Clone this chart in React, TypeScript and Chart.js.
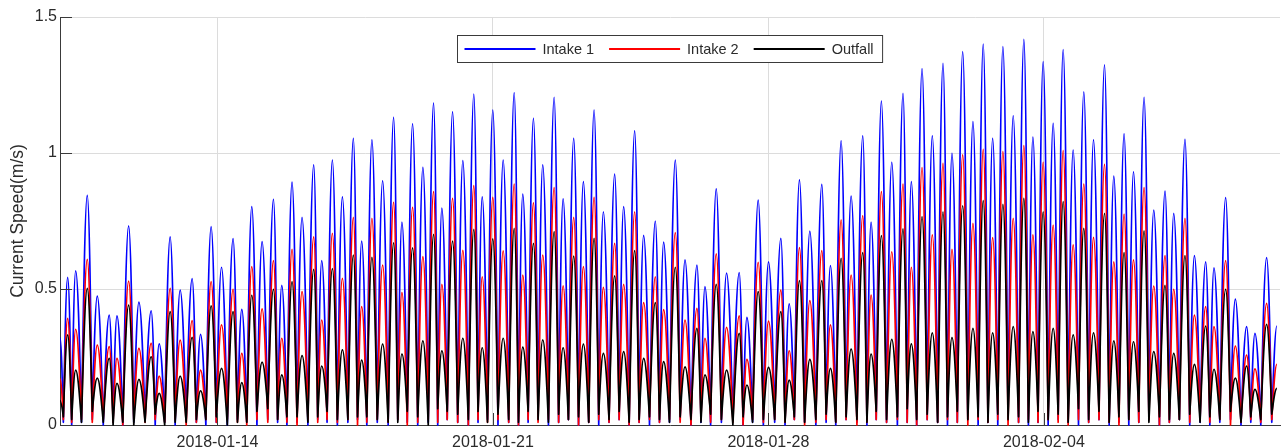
import React, { useEffect, useRef } from 'react';
import { Chart, registerables } from 'chart.js';

Chart.register(...registerables);

// ---- axis / labels ----
const X_MIN_DAY = 0; // days since 2018-01-10 00:00
const X_MAX_DAY = 31;
const xTickDays = [4, 11, 18, 25];
const xTickLabels = ['2018-01-14', '2018-01-21', '2018-01-28', '2018-02-04'];
const yTickValues = [0, 0.5, 1, 1.5];
const yTitle = 'Current Speed(m/s)';

const seriesNames = ['Intake 1', 'Intake 2', 'Outfall'];
const seriesColors = ['#0000ff', '#ff0000', '#000000'];

// ---- data (days since 2018-01-10, speed in m/s) ----
const startDay = 0;
const startValues = [0.32, 0.17, 0.09];

const peakDays = [
  0.195, 0.398, 0.693, 0.947, 1.251, 1.447, 1.744, 2.005, 2.317, 2.52,
  2.799, 3.053, 3.358, 3.571, 3.84, 4.104, 4.398, 4.619, 4.873, 5.135,
  5.424, 5.635, 5.896, 6.15, 6.447, 6.65, 6.921, 7.175, 7.454, 7.665,
  7.926, 8.198, 8.477, 8.688, 8.959, 9.221, 9.492, 9.703, 9.975, 10.236,
  10.515, 10.728, 10.997, 11.261, 11.541, 11.759, 12.03, 12.266, 12.556, 12.784,
  13.053, 13.299, 13.571, 13.807, 14.094, 14.322, 14.602, 14.83, 15.127, 15.338,
  15.635, 15.881, 16.185, 16.388, 16.675, 16.937, 17.259, 17.454, 17.741, 18.003,
  18.317, 18.528, 18.789, 19.053, 19.358, 19.576, 19.848, 20.102, 20.398, 20.609,
  20.871, 21.135, 21.421, 21.632, 21.904, 22.165, 22.437, 22.665, 22.937, 23.198,
  23.459, 23.698, 23.959, 24.221, 24.492, 24.721, 24.982, 25.236, 25.49, 25.744,
  26.015, 26.261, 26.541, 26.777, 27.038, 27.277, 27.546, 27.792, 28.079, 28.299,
  28.586, 28.825, 29.112, 29.322, 29.619, 29.865, 30.152, 30.363, 30.66, 30.921,
];

const intake1Peaks = [
  0.543, 0.567, 0.844, 0.474, 0.404, 0.401, 0.732, 0.452, 0.42, 0.298,
  0.692, 0.496, 0.538, 0.333, 0.729, 0.58, 0.685, 0.425, 0.803, 0.674,
  0.83, 0.513, 0.893, 0.763, 0.956, 0.604, 0.974, 0.839, 1.054, 0.676,
  1.048, 0.898, 1.131, 0.746, 1.107, 0.947, 1.183, 0.797, 1.151, 0.972,
  1.217, 0.839, 1.158, 0.974, 1.222, 0.849, 1.127, 0.956, 1.205, 0.831,
  1.054, 0.895, 1.158, 0.784, 0.922, 0.803, 1.081, 0.697, 0.75, 0.672,
  0.974, 0.607, 0.588, 0.509, 0.868, 0.558, 0.56, 0.396, 0.827, 0.6,
  0.686, 0.445, 0.901, 0.713, 0.885, 0.586, 1.045, 0.842, 1.063, 0.746,
  1.191, 0.966, 1.219, 0.895, 1.31, 1.063, 1.33, 0.999, 1.373, 1.115,
  1.4, 1.054, 1.391, 1.137, 1.418, 1.058, 1.336, 1.109, 1.38, 1.011,
  1.225, 1.048, 1.324, 0.915, 1.07, 0.931, 1.205, 0.79, 0.86, 0.778,
  1.05, 0.623, 0.6, 0.578, 0.836, 0.463, 0.362, 0.337, 0.615, 0.364,
];

const intake2Peaks = [
  0.392, 0.352, 0.609, 0.294, 0.288, 0.245, 0.529, 0.282, 0.3, 0.18,
  0.502, 0.312, 0.384, 0.202, 0.527, 0.368, 0.499, 0.263, 0.582, 0.427,
  0.604, 0.319, 0.646, 0.49, 0.692, 0.386, 0.705, 0.539, 0.763, 0.435,
  0.76, 0.588, 0.819, 0.487, 0.8, 0.619, 0.858, 0.517, 0.833, 0.642,
  0.88, 0.545, 0.837, 0.64, 0.886, 0.551, 0.817, 0.625, 0.873, 0.512,
  0.763, 0.582, 0.837, 0.506, 0.668, 0.517, 0.784, 0.45, 0.545, 0.424,
  0.707, 0.386, 0.429, 0.319, 0.629, 0.359, 0.401, 0.241, 0.598, 0.382,
  0.496, 0.273, 0.652, 0.457, 0.641, 0.368, 0.754, 0.551, 0.77, 0.478,
  0.858, 0.637, 0.886, 0.58, 0.946, 0.699, 0.962, 0.646, 0.993, 0.741,
  1.013, 0.689, 1.005, 0.76, 1.027, 0.699, 0.966, 0.735, 1.009, 0.662,
  0.886, 0.69, 0.958, 0.6, 0.775, 0.607, 0.873, 0.511, 0.623, 0.499,
  0.76, 0.404, 0.435, 0.362, 0.604, 0.29, 0.257, 0.206, 0.447, 0.223,
];

const outfallPeaks = [
  0.331, 0.202, 0.502, 0.172, 0.245, 0.153, 0.441, 0.168, 0.251, 0.116,
  0.417, 0.18, 0.322, 0.126, 0.438, 0.208, 0.417, 0.156, 0.477, 0.231,
  0.499, 0.184, 0.527, 0.255, 0.572, 0.217, 0.575, 0.276, 0.625, 0.239,
  0.616, 0.297, 0.67, 0.261, 0.651, 0.309, 0.701, 0.273, 0.676, 0.319,
  0.719, 0.284, 0.684, 0.319, 0.723, 0.286, 0.668, 0.313, 0.711, 0.284,
  0.621, 0.297, 0.686, 0.263, 0.548, 0.27, 0.641, 0.245, 0.45, 0.233,
  0.58, 0.214, 0.355, 0.184, 0.517, 0.202, 0.337, 0.147, 0.49, 0.212,
  0.417, 0.165, 0.531, 0.241, 0.531, 0.208, 0.613, 0.279, 0.634, 0.261,
  0.696, 0.315, 0.721, 0.298, 0.766, 0.339, 0.784, 0.321, 0.806, 0.355,
  0.825, 0.339, 0.811, 0.362, 0.833, 0.343, 0.784, 0.355, 0.821, 0.331,
  0.723, 0.339, 0.778, 0.309, 0.634, 0.306, 0.714, 0.27, 0.513, 0.263,
  0.623, 0.223, 0.364, 0.205, 0.499, 0.172, 0.217, 0.131, 0.37, 0.135,
];

const troughDays = [
  0.085, 0.297, 0.546, 0.82, 1.099, 1.349, 1.596, 1.875, 2.161, 2.419,
  2.66, 2.926, 3.206, 3.465, 3.706, 3.972, 4.251, 4.509, 4.746, 5.004,
  5.28, 5.53, 5.766, 6.023, 6.299, 6.549, 6.786, 7.048, 7.315, 7.56,
  7.796, 8.062, 8.338, 8.583, 8.824, 9.09, 9.357, 9.598, 9.839, 10.106,
  10.376, 10.622, 10.863, 11.129, 11.401, 11.65, 11.895, 12.148, 12.411, 12.67,
  12.919, 13.176, 13.435, 13.689, 13.951, 14.208, 14.462, 14.716, 14.979, 15.233,
  15.487, 15.758, 16.033, 16.287, 16.532, 16.806, 17.098, 17.357, 17.598, 17.872,
  18.16, 18.423, 18.659, 18.921, 19.206, 19.467, 19.712, 19.975, 20.25, 20.504,
  20.74, 21.003, 21.278, 21.527, 21.768, 22.035, 22.301, 22.551, 22.801, 23.068,
  23.329, 23.579, 23.829, 24.09, 24.357, 24.607, 24.852, 25.109, 25.363, 25.617,
  25.88, 26.138, 26.401, 26.659, 26.908, 27.158, 27.412, 27.669, 27.936, 28.189,
  28.443, 28.706, 28.969, 29.217, 29.471, 29.742, 30.009, 30.258, 30.512, 30.791,
];

const intake1Troughs = [
  0.01, 0.0, 0.01, 0.02, 0.0, 0.01, 0.0, 0.01, 0.02, 0.0,
  0.01, 0.0, 0.02, 0.01, 0.0, 0.01, 0.0, 0.02, 0.01, 0.0,
  0.02, 0.01, 0.0, 0.01, 0.0, 0.02, 0.01, 0.0, 0.01, 0.02,
  0.0, 0.01, 0.0, 0.02, 0.01, 0.0, 0.01, 0.0, 0.02, 0.01,
  0.0, 0.01, 0.02, 0.0, 0.01, 0.0, 0.01, 0.02, 0.0, 0.01,
  0.02, 0.0, 0.01, 0.0, 0.01, 0.02, 0.0, 0.01, 0.0, 0.01,
  0.01, 0.02, 0.0, 0.01, 0.0, 0.01, 0.02, 0.0, 0.01, 0.0,
  0.01, 0.0, 0.02, 0.01, 0.0, 0.01, 0.0, 0.02, 0.01, 0.0,
  0.02, 0.01, 0.0, 0.01, 0.0, 0.02, 0.01, 0.0, 0.01, 0.02,
  0.0, 0.01, 0.0, 0.02, 0.01, 0.0, 0.01, 0.0, 0.02, 0.01,
  0.0, 0.01, 0.02, 0.0, 0.01, 0.0, 0.01, 0.02, 0.0, 0.01,
  0.02, 0.0, 0.01, 0.0, 0.01, 0.02, 0.0, 0.01, 0.0, 0.01,
];

const intake2Troughs = [
  0.02, 0.01, 0.02, 0.01, 0.02, 0.01, 0.0, 0.02, 0.01, 0.02,
  0.01, 0.02, 0.0, 0.01, 0.02, 0.01, 0.02, 0.01, 0.0, 0.02,
  0.01, 0.02, 0.01, 0.0, 0.02, 0.01, 0.02, 0.01, 0.02, 0.0,
  0.01, 0.02, 0.01, 0.02, 0.0, 0.01, 0.02, 0.01, 0.02, 0.01,
  0.0, 0.02, 0.01, 0.02, 0.01, 0.0, 0.02, 0.01, 0.02, 0.01,
  0.02, 0.0, 0.01, 0.02, 0.01, 0.02, 0.0, 0.01, 0.02, 0.01,
  0.02, 0.01, 0.0, 0.02, 0.01, 0.02, 0.01, 0.0, 0.02, 0.01,
  0.02, 0.01, 0.02, 0.0, 0.01, 0.02, 0.01, 0.02, 0.0, 0.01,
  0.02, 0.01, 0.02, 0.01, 0.0, 0.02, 0.01, 0.02, 0.01, 0.0,
  0.02, 0.01, 0.02, 0.0, 0.01, 0.02, 0.01, 0.02, 0.01, 0.0,
  0.02, 0.01, 0.02, 0.01, 0.0, 0.02, 0.01, 0.02, 0.0, 0.01,
  0.02, 0.01, 0.02, 0.01, 0.02, 0.0, 0.01, 0.02, 0.01, 0.02,
];

const outfallTroughs = [
  0.03, 0.02, 0.01, 0.05, 0.01, 0.0, 0.01, 0.0, 0.01, 0.04,
  0.0, 0.01, 0.01, 0.02, 0.02, 0.03, 0.0, 0.01, 0.01, 0.05,
  0.06, 0.02, 0.03, 0.03, 0.01, 0.03, 0.05, 0.02, 0.02, 0.03,
  0.03, 0.02, 0.01, 0.01, 0.05, 0.03, 0.0, 0.06, 0.05, 0.04,
  0.02, 0.05, 0.01, 0.04, 0.02, 0.01, 0.05, 0.02, 0.01, 0.04,
  0.02, 0.03, 0.01, 0.04, 0.02, 0.05, 0.01, 0.02, 0.03, 0.02,
  0.01, 0.03, 0.02, 0.01, 0.04, 0.02, 0.0, 0.03, 0.01, 0.02,
  0.02, 0.01, 0.03, 0.01, 0.02, 0.04, 0.01, 0.03, 0.02, 0.01,
  0.05, 0.02, 0.03, 0.06, 0.02, 0.04, 0.01, 0.03, 0.05, 0.02,
  0.03, 0.01, 0.04, 0.02, 0.03, 0.01, 0.05, 0.02, 0.04, 0.01,
  0.06, 0.02, 0.05, 0.01, 0.03, 0.02, 0.05, 0.01, 0.03, 0.02,
  0.02, 0.04, 0.01, 0.03, 0.02, 0.05, 0.01, 0.03, 0.02, 0.04,
];

const seriesPeaks = [intake1Peaks, intake2Peaks, outfallPeaks];
const seriesTroughs = [intake1Troughs, intake2Troughs, outfallTroughs];

const FONT = '"Liberation Sans", Arial, Helvetica, sans-serif';
const TEXT_COLOR = '#2b2b2b';
const AXIS_COLOR = '#3a3a3a';
const GRID_COLOR = '#dcdcdc';

function buildPoints(s: number) {
  const pts: { x: number; y: number }[] = [{ x: startDay, y: startValues[s] }];
  for (let i = 0; i < peakDays.length; i++) {
    pts.push({ x: troughDays[i], y: seriesTroughs[s][i] });
    pts.push({ x: peakDays[i], y: seriesPeaks[s][i] });
  }
  return pts;
}

// Strokes each dataset through the point positions computed by Chart.js's scales,
// joining trough -> peak with a quarter-sine shaped bezier (sharp troughs, round crests).
const K1 = 0.3516;
const K2 = 0.5523;
const sineArchPlugin = {
  id: 'sineArch',
  beforeDatasetDraw(chart: any, args: any) {
    const { ctx, chartArea } = chart;
    const pts = args.meta.data;
    if (!pts || pts.length < 2) return;
    const ds = chart.data.datasets[args.index];
    ctx.save();
    ctx.beginPath();
    ctx.rect(chartArea.left, chartArea.top - 2, chartArea.right - chartArea.left, chartArea.bottom - chartArea.top + 4);
    ctx.clip();
    ctx.beginPath();
    ctx.moveTo(pts[0].x, pts[0].y);
    for (let i = 1; i < pts.length; i++) {
      const a = pts[i - 1];
      const b = pts[i];
      const aHigh = a.y < b.y;
      const hi = aHigh ? a : b;
      const lo = aHigh ? b : a;
      const dx = hi.x - lo.x;
      const dy = hi.y - lo.y;
      const c1x = lo.x + K1 * dx;
      const c1y = lo.y + K2 * dy;
      const c2x = lo.x + (1 - K1) * dx;
      const c2y = hi.y;
      if (aHigh) ctx.bezierCurveTo(c2x, c2y, c1x, c1y, b.x, b.y);
      else ctx.bezierCurveTo(c1x, c1y, c2x, c2y, b.x, b.y);
    }
    ctx.strokeStyle = ds.borderColor;
    ctx.lineWidth = ds.borderWidth;
    ctx.lineJoin = 'round';
    ctx.stroke();
    ctx.restore();
    return false;
  },
};

const innerTicksPlugin = {
  id: 'innerTicks',
  afterDraw(chart: any) {
    const { ctx, chartArea, scales } = chart;
    const len = 12;
    ctx.save();
    ctx.strokeStyle = AXIS_COLOR;
    ctx.lineWidth = 1;
    ctx.beginPath();
    yTickValues.forEach((v) => {
      const y = Math.round(scales.y.getPixelForValue(v)) + 0.5;
      ctx.moveTo(chartArea.left, y);
      ctx.lineTo(chartArea.left + len, y);
    });
    xTickDays.forEach((d) => {
      const x = Math.round(scales.x.getPixelForValue(d)) + 0.5;
      ctx.moveTo(x, chartArea.bottom);
      ctx.lineTo(x, chartArea.bottom - len);
    });
    ctx.stroke();
    ctx.restore();
  },
};

const boxLegendPlugin = {
  id: 'boxLegend',
  afterDraw(chart: any) {
    const { ctx, chartArea } = chart;
    ctx.save();
    ctx.font = `14.5px ${FONT}`;
    const padL = 7;
    const padR = 9;
    const lineLen = 71;
    const gap = 7;
    const itemGap = 15;
    const widths = seriesNames.map((n) => ctx.measureText(n).width);
    let total = padL + padR + itemGap * (seriesNames.length - 1);
    widths.forEach((w) => (total += lineLen + gap + w));
    const cx = (chartArea.left + chartArea.right) / 2;
    const left = Math.round(cx - total / 2) + 0.5;
    const top = chartArea.top + 18.5;
    const h = 27;
    ctx.fillStyle = '#ffffff';
    ctx.fillRect(left, top, total, h);
    ctx.strokeStyle = AXIS_COLOR;
    ctx.lineWidth = 1;
    ctx.strokeRect(left, top, total, h);
    const cy = Math.round(top + h / 2);
    let x = left + padL;
    seriesNames.forEach((name, i) => {
      ctx.beginPath();
      ctx.strokeStyle = seriesColors[i];
      ctx.lineWidth = 2;
      ctx.moveTo(x, cy);
      ctx.lineTo(x + lineLen, cy);
      ctx.stroke();
      x += lineLen + gap;
      ctx.fillStyle = TEXT_COLOR;
      ctx.textBaseline = 'middle';
      ctx.textAlign = 'left';
      ctx.fillText(name, x, cy + 1);
      x += widths[i] + itemGap;
    });
    ctx.restore();
  },
};

export default function App() {
  const canvasRef = useRef<HTMLCanvasElement | null>(null);

  useEffect(() => {
    if (!canvasRef.current) return;
    const datasets = seriesNames.map((name, s) => ({
      label: name,
      data: buildPoints(s),
      borderColor: seriesColors[s],
      backgroundColor: seriesColors[s],
      borderWidth: 1.7,
      pointRadius: 0,
      fill: false,
      tension: 0,
      order: 3 - s,
    }));

    const chart = new Chart(canvasRef.current, {
      type: 'line',
      data: { datasets },
      options: {
        animation: false,
        responsive: true,
        maintainAspectRatio: false,
        devicePixelRatio: 1,
        parsing: false,
        normalized: true,
        layout: { padding: { top: 17, right: 5, left: 0, bottom: 0 } },
        plugins: {
          legend: { display: false },
          tooltip: { enabled: false },
        },
        scales: {
          x: {
            type: 'linear',
            min: X_MIN_DAY,
            max: X_MAX_DAY,
            afterBuildTicks: (scale: any) => {
              scale.ticks = xTickDays.map((v) => ({ value: v }));
            },
            afterFit: (scale: any) => {
              scale.height = 23;
            },
            ticks: {
              autoSkip: false,
              maxRotation: 0,
              padding: 8,
              color: TEXT_COLOR,
              font: { family: FONT, size: 16 },
              callback: (value: any) => {
                const idx = xTickDays.indexOf(Number(value));
                return idx >= 0 ? xTickLabels[idx] : '';
              },
            },
            grid: { color: GRID_COLOR, drawTicks: false, lineWidth: 1 },
            border: { display: true, color: AXIS_COLOR, width: 1 },
          },
          y: {
            type: 'linear',
            min: 0,
            max: 1.5,
            afterBuildTicks: (scale: any) => {
              scale.ticks = yTickValues.map((v) => ({ value: v }));
            },
            afterFit: (scale: any) => {
              scale.width = 60;
            },
            ticks: {
              padding: 3,
              color: TEXT_COLOR,
              font: { family: FONT, size: 16 },
              callback: (value: any) => String(value),
            },
            grid: { color: GRID_COLOR, drawTicks: false, lineWidth: 1 },
            border: { display: true, color: AXIS_COLOR, width: 1 },
            title: {
              display: true,
              text: yTitle,
              color: TEXT_COLOR,
              font: { family: FONT, size: 17.5 },
              padding: { top: 8, bottom: 0 },
            },
          },
        },
      },
      plugins: [sineArchPlugin, innerTicksPlugin, boxLegendPlugin],
    });
    return () => chart.destroy();
  }, []);

  return (
    <div style={{ position: 'fixed', left: 0, top: 0, width: '1285px', height: '448px', background: '#fff' }}>
      <canvas ref={canvasRef} />
    </div>
  );
}
